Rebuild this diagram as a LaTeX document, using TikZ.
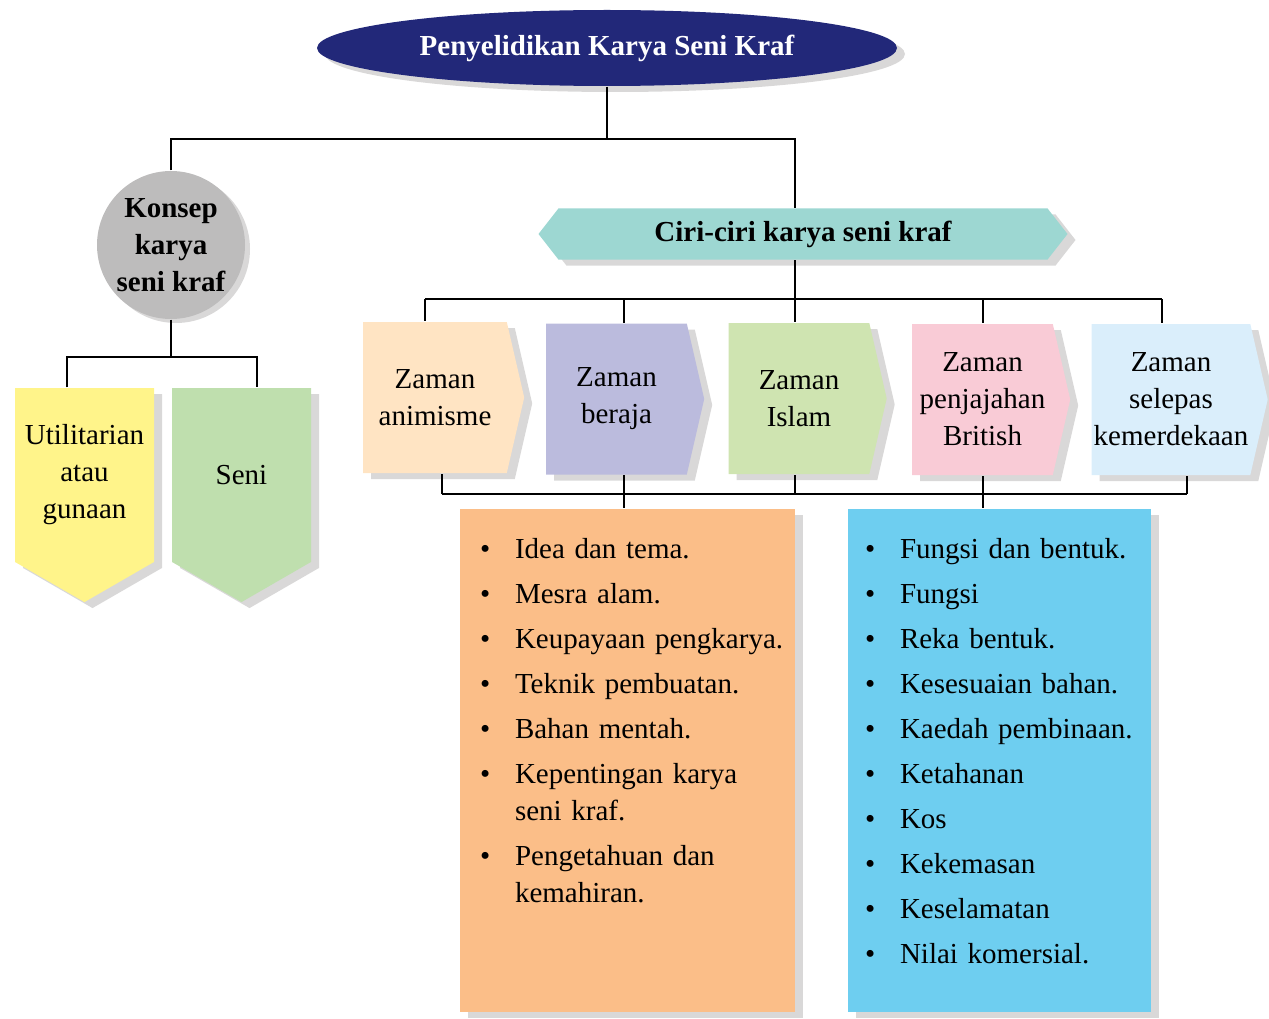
\documentclass[tikz,border=0pt]{standalone}
\usepackage{fontspec}
\setmainfont{Liberation Serif}
\usepackage{enumitem}
\usetikzlibrary{shapes.geometric,shapes.symbols,shadows}
\definecolor{colNavy}{HTML}{222879}
\definecolor{colShade}{HTML}{D9D8D8}
\definecolor{colGrey}{HTML}{BDBCBC}
\definecolor{colTeal}{HTML}{9DD7D2}
\definecolor{colPeach}{HTML}{FFE4C3}
\definecolor{colLilac}{HTML}{BBBBDD}
\definecolor{colLime}{HTML}{CFE4B1}
\definecolor{colPink}{HTML}{F9CBD6}
\definecolor{colSky}{HTML}{DAEEFB}
\definecolor{colLemon}{HTML}{FFF48A}
\definecolor{colSage}{HTML}{BFDFAE}
\definecolor{colApricot}{HTML}{FBBE88}
\definecolor{colCyan}{HTML}{6ECEF0}
\newcommand{\txt}{\fontsize{29}{37}\selectfont}
\setlist[itemize]{label=\textbullet,leftmargin=35pt,labelindent=0pt,labelwidth=10pt,labelsep=*,align=left,itemsep=8pt,parsep=0pt,topsep=0pt,partopsep=0pt}

\begin{document}
\begin{tikzpicture}[x=1pt,y=-1pt,
    every node/.style={font=\txt,inner sep=0pt,align=center},
    shadowed/.style={drop shadow={shadow xshift=8pt,shadow yshift=-6pt,fill=colShade,opacity=1}},
    era/.style={signal,signal to=east,signal pointer angle=154,minimum width=158pt,minimum height=151pt,shadowed,fill=#1},
    kind/.style={signal,signal to=south,signal pointer angle=120,text width=125pt,minimum width=139pt,minimum height=210pt,shadowed,fill=#1},
    panel/.style={rectangle,minimum height=503pt,shadowed,fill=#1},
    points/.style={anchor=north west,text width=320pt,align=left},
    every path/.style={line width=1.2pt}]
    \useasboundingbox (0,0) rectangle (1269,1019);
    \node[ellipse,minimum width=580pt,minimum height=76pt,fill=colNavy,text=white,font=\txt\bfseries,shadowed] (T) at (607,48) {Penyelidikan Karya Seni Kraf};
    \node[circle,minimum size=148pt,fill=colGrey,font=\txt\bfseries,drop shadow={shadow xshift=5pt,shadow yshift=-4pt,fill=colShade,opacity=1}] (K) at (171,245) {Konsep\\karya\\seni kraf};
    \node[signal,signal to=east and west,signal pointer angle=104,minimum width=529pt,minimum height=51pt,fill=colTeal,font=\txt\bfseries,shadowed] (C) at (803,234) {Ciri-ciri karya seni kraf};
    \node[era=colPeach,minimum width=161pt] (Z1) at (435,397.5) {Zaman\\animisme};
    \node[era=colLilac] (Z2) at (616.5,399) {Zaman\\beraja};
    \node[era=colLime] (Z3) at (799,398.5) {Zaman\\Islam};
    \node[era=colPink] (Z4) at (982.5,399.5) {Zaman\\penjajahan\\British};
    \node[era=colSky,minimum width=176pt] (Z5) at (1171,399.5) {Zaman\\selepas\\kemerdekaan};
    \node[kind=colLemon] (U) at (84.5,475) {Utilitarian\\atau\\gunaan};
    \node[kind=colSage] (S) at (241.5,475) {Seni};
    \node[panel=colApricot,minimum width=335pt] (O) at (627.5,760.5) {};
    \node[panel=colCyan,minimum width=303pt] (B) at (999.5,760.5) {};
    \node[points,xshift=20pt,yshift=-12pt] (OL) at (O.north west) {\begin{itemize}
        \item Idea dan tema.
        \item Mesra alam.
        \item Keupayaan pengkarya.
        \item Teknik pembuatan.
        \item Bahan mentah.
        \item Kepentingan karya\\seni kraf.
        \item Pengetahuan dan\\kemahiran.
    \end{itemize}};
    \node[points,xshift=17pt,yshift=-12pt] (BL) at (B.north west) {\begin{itemize}
        \item Fungsi dan bentuk.
        \item Fungsi
        \item Reka bentuk.
        \item Kesesuaian bahan.
        \item Kaedah pembinaan.
        \item Ketahanan
        \item Kos
        \item Kekemasan
        \item Keselamatan
        \item Nilai komersial.
    \end{itemize}};
    \coordinate (a1) at (171,139); \coordinate (a2) at (795,139);
    \coordinate (b1) at (425,299); \coordinate (b2) at (1162,299);
    \coordinate (c1) at (442,494); \coordinate (c2) at (1187,494);
    \coordinate (d1) at (67,357);  \coordinate (d2) at (257,357);
    \draw (T) -- (T |- a1);
    \draw (K) -- (a1) -- (a2) -- (a2 |- C.north);
    \draw (a2 |- C.south) -- (a2 |- b1);
    \draw (b1) -- (b2);
    \foreach \x/\n in {425/Z1,624/Z2,795/Z3,983/Z4,1162/Z5}
        \draw (\x,299) -- (\x,299 |- \n.north);
    \draw (c1) -- (c2);
    \foreach \x/\n in {442/Z1,624/Z2,795/Z3,983/Z4,1187/Z5}
        \draw (\x,494) -- (\x,494 |- \n.south);
    \draw (624,494) -- (624,494 |- O.north);
    \draw (983,494) -- (983,494 |- B.north);
    \draw (K) -- (K |- d1);
    \draw (d1 |- U.north) -- (d1) -- (d2) -- (d2 |- S.north);
\end{tikzpicture}
\end{document}
